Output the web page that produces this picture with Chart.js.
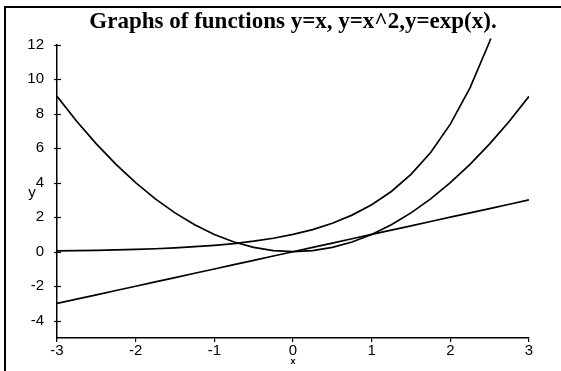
<!DOCTYPE html>
<html>
<head>
<meta charset="utf-8">
<script src="https://cdn.jsdelivr.net/npm/chart.js@4.4.1/dist/chart.umd.min.js"></script>
<style>
  html, body { margin: 0; padding: 0; background: #fff; }
  canvas { display: block; }
</style>
</head>
<body>
<canvas id="graph" width="561" height="371"></canvas>
<script>
// sample points along x
const xValues = [-3, -2.75, -2.5, -2.25, -2, -1.75, -1.5, -1.25, -1, -0.75, -0.5, -0.25, 0,
                 0.25, 0.5, 0.75, 1, 1.25, 1.5, 1.75, 2, 2.25, 2.5, 2.75, 3];
// y = x
const lineValues = [-3, -2.75, -2.5, -2.25, -2, -1.75, -1.5, -1.25, -1, -0.75, -0.5, -0.25, 0,
                    0.25, 0.5, 0.75, 1, 1.25, 1.5, 1.75, 2, 2.25, 2.5, 2.75, 3];
// y = x^2
const squareValues = [9, 7.56, 6.25, 5.06, 4, 3.06, 2.25, 1.56, 1, 0.56, 0.25, 0.06, 0,
                      0.06, 0.25, 0.56, 1, 1.56, 2.25, 3.06, 4, 5.06, 6.25, 7.56, 9];
// y = exp(x)
const expValues = [0.05, 0.06, 0.08, 0.11, 0.14, 0.17, 0.22, 0.29, 0.37, 0.47, 0.61, 0.78, 1,
                   1.28, 1.65, 2.12, 2.72, 3.49, 4.48, 5.75, 7.39, 9.49, 12.18, 15.64, 20.09];

const titleText = 'Graphs of functions y=x, y=x^2,y=exp(x).';

const sansFont = '"Liberation Sans", Arial, sans-serif';

function points(ys) {
    return xValues.map((x, i) => ({ x: x, y: ys[i] }));
}

function curve(label, ys) {
    return {
        label: label,
        data: points(ys),
        borderColor: '#000',
        backgroundColor: '#000',
        borderWidth: 1.7,
        tension: 0,
        pointRadius: 0,
        clip: { left: 0, top: 6, right: 0, bottom: 0 }
    };
}

// frame lines, the "y" label and ticks crossing the y axis
const decorations = {
    id: 'decorations',
    beforeDraw(chart) {
        const ctx = chart.ctx;
        ctx.save();
        ctx.strokeStyle = '#000';
        ctx.lineWidth = 2;
        ctx.beginPath();
        ctx.moveTo(5, chart.height);
        ctx.lineTo(5, 7);
        ctx.lineTo(chart.width, 7);
        ctx.stroke();
        ctx.restore();
    },
    afterDraw(chart) {
        const ctx = chart.ctx;
        const area = chart.chartArea;
        const y = chart.scales.y;
        ctx.save();
        ctx.strokeStyle = '#000';
        ctx.lineWidth = 1.2;
        y.ticks.forEach(t => {
            const py = Math.round(y.getPixelForValue(t.value)) + 0.5;
            ctx.beginPath();
            ctx.moveTo(area.left - 3, py);
            ctx.lineTo(area.left + 4, py);
            ctx.stroke();
        });
        ctx.fillStyle = '#000';
        ctx.font = '15px ' + sansFont;
        ctx.textAlign = 'center';
        ctx.textBaseline = 'middle';
        ctx.fillText('y', 32, (area.top + area.bottom) / 2 + 2);
        ctx.restore();
    }
};

new Chart(document.getElementById('graph'), {
    type: 'line',
    data: {
        datasets: [
            curve('y=x', lineValues),
            curve('y=x^2', squareValues),
            curve('y=exp(x)', expValues)
        ]
    },
    options: {
        responsive: false,
        animation: false,
        layout: { padding: { left: 0, right: 32, top: 0, bottom: 0 } },
        plugins: {
            legend: { display: false },
            tooltip: { enabled: false },
            title: {
                display: true,
                fullSize: false,
                text: titleText,
                color: '#000',
                font: { family: '"Liberation Serif", "Times New Roman", serif', size: 23, weight: 'bold' },
                padding: { top: 8, bottom: 9 }
            }
        },
        scales: {
            x: {
                type: 'linear',
                min: -3,
                max: 3,
                afterFit(scale) { scale.height = 33; },
                ticks: {
                    stepSize: 1,
                    color: '#000',
                    padding: 0,
                    maxRotation: 0,
                    font: { family: sansFont, size: 15 }
                },
                grid: { drawOnChartArea: false, color: '#000', tickLength: 4, lineWidth: 1.2 },
                border: { color: '#000', width: 1.5 },
                title: {
                    display: true,
                    text: 'x',
                    color: '#000',
                    font: { family: sansFont, size: 9, weight: 'bold' },
                    padding: { top: 0, bottom: 4 }
                }
            },
            y: {
                min: -5,
                max: 12,
                afterFit(scale) { scale.width = 57; },
                afterBuildTicks(scale) {
                    scale.ticks = scale.ticks.filter(t => t.value % 2 === 0);
                },
                ticks: {
                    stepSize: 2,
                    color: '#000',
                    padding: 5,
                    font: { family: sansFont, size: 15 }
                },
                grid: { display: false },
                border: { color: '#000', width: 1.5 }
            }
        }
    },
    plugins: [decorations]
});
</script>
</body>
</html>
